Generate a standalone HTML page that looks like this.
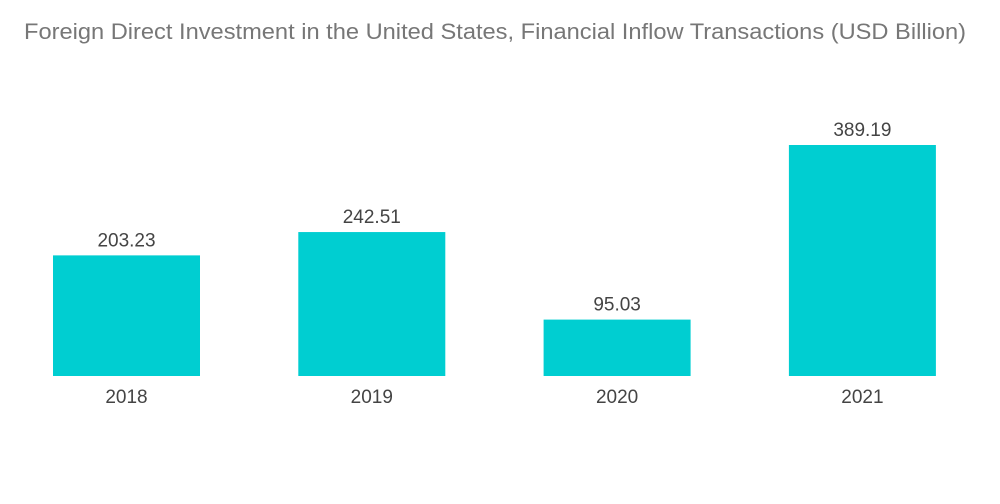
<!DOCTYPE html>
<html><head><meta charset="utf-8"><style>
body{margin:0;background:#fff;font-family:"Liberation Sans",sans-serif;}
#wrap{position:relative;width:1000px;height:504px;overflow:hidden;}
</style></head><body>
<div id="wrap">
<svg id="chart" width="1000" height="504">
<text x="24" y="39" textLength="942" lengthAdjust="spacingAndGlyphs" font-size="22" fill="#777">Foreign Direct Investment in the United States, Financial Inflow Transactions (USD Billion)</text>
</svg>
</div>
<script>
const categories=["2018","2019","2020","2021"];
const values=[203.23,242.51,95.03,389.19];
const labels=["203.23","242.51","95.03","389.19"];
const svg=document.getElementById('chart');
const NS="http://www.w3.org/2000/svg";
const baseY=376, pxPerUnit=231/389.19;
function y(v){return baseY-v*pxPerUnit;}
function x(i){return 53+i*245.3;}
const bw=147;
categories.forEach((c,i)=>{
  const r=document.createElementNS(NS,'rect');
  r.setAttribute('x',x(i));r.setAttribute('y',y(values[i]));
  r.setAttribute('width',bw);r.setAttribute('height',baseY-y(values[i]));
  r.setAttribute('fill','#00ced1');
  
  
  svg.appendChild(r);
  const t=document.createElementNS(NS,'text');
  t.setAttribute('x',x(i)+bw/2);t.setAttribute('y',y(values[i])-9);
  t.setAttribute('text-anchor','middle');t.setAttribute('font-size','19');t.setAttribute('fill','#444');
  t.textContent=labels[i];
  
  
  svg.appendChild(t);
  const l=document.createElementNS(NS,'text');
  l.setAttribute('x',x(i)+bw/2);l.setAttribute('y',403);
  l.setAttribute('text-anchor','middle');l.setAttribute('font-size','19');l.setAttribute('fill','#444');
  l.textContent=c;
  
  
  svg.appendChild(l);
});
</script>
</body></html>
